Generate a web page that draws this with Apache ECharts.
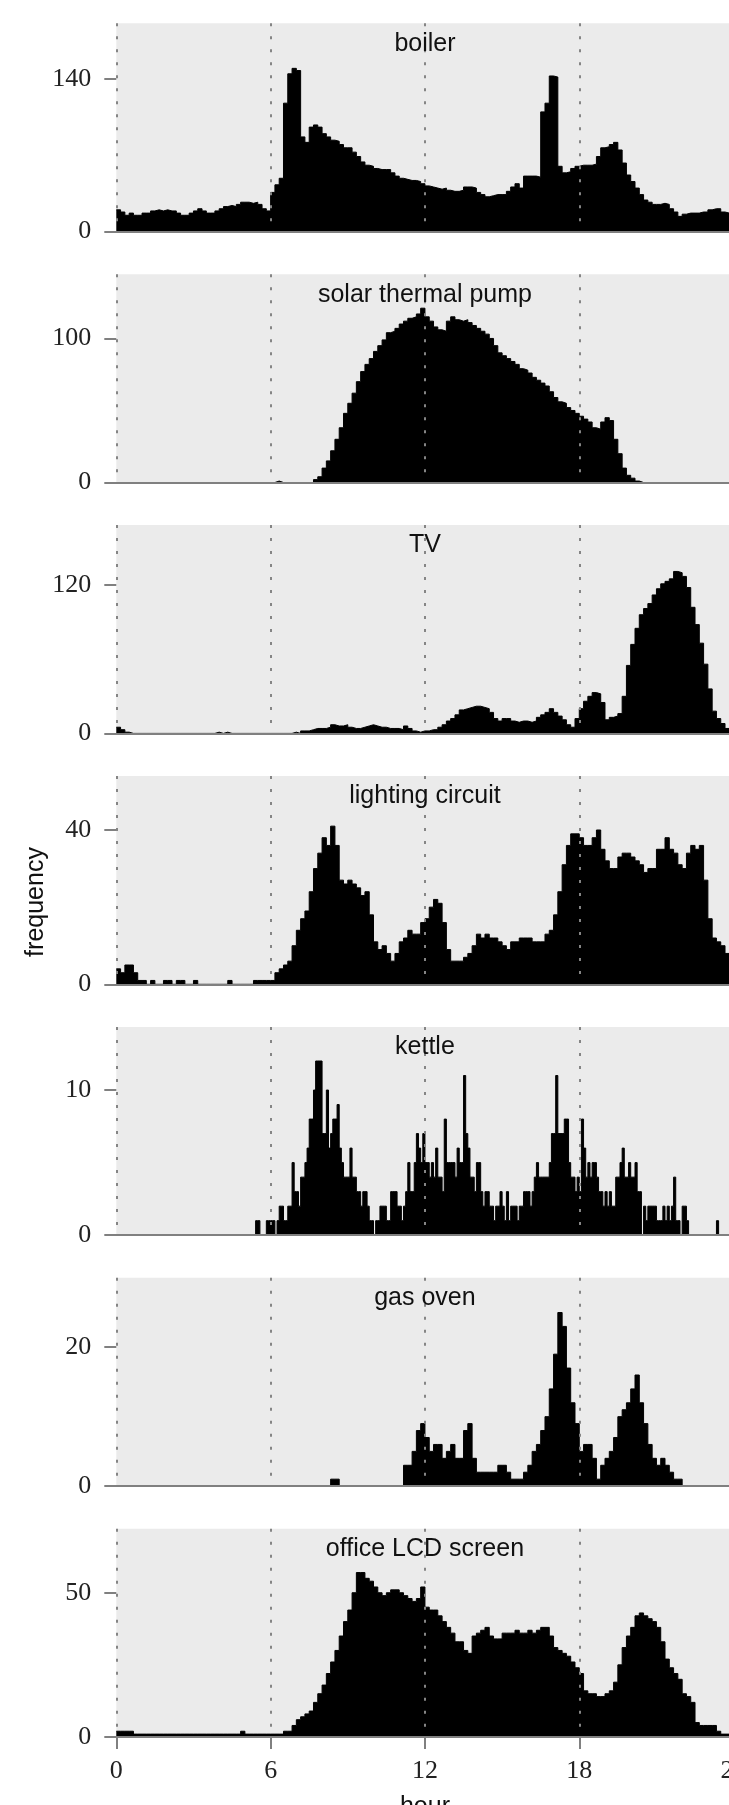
<!DOCTYPE html>
<html>
<head>
<meta charset="utf-8">
<title>appliance usage by hour</title>
<script src="https://cdn.jsdelivr.net/npm/echarts@6/dist/echarts.min.js"></script>
<style>
  html, body { margin: 0; padding: 0; background: #fff; }
  #chart { width: 729px; height: 1805px; }
</style>
</head>
<body>
<div id="chart"></div>
<script>
const hourTicks = [0, 6, 12, 18, 24]
const titles = ['boiler', 'solar thermal pump', 'TV', 'lighting circuit', 'kettle', 'gas oven', 'office LCD screen']
const yTicks = [140, 100, 120, 40, 10, 20, 50]
const yMax = [191.4, 144.6, 168.5, 54, 14.35, 30, 72.2]

// 10 minute bins, 0h .. 24h
const boiler = [
  20, 18, 15, 17, 15, 15, 17, 17, 19, 20, 19, 20,
  19, 19, 17, 15, 15, 17, 19, 21, 19, 17, 17, 19,
  21, 23, 24, 23, 25, 27, 27, 26, 27, 25, 21, 19,
  36, 43, 49, 118, 145, 150, 148, 87, 82, 96, 98, 96,
  90, 87, 84, 83, 80, 77, 77, 73, 69, 64, 61, 60,
  58, 57, 57, 57, 54, 51, 49, 48, 47, 47, 46, 44,
  42, 41, 40, 39, 40, 38, 37, 37, 38, 41, 41, 40,
  36, 34, 32, 33, 34, 34, 34, 37, 41, 44, 40, 51,
  51, 51, 50, 110, 118, 143, 142, 60, 54, 55, 58, 60,
  61, 61, 61, 62, 69, 77, 78, 80, 82, 75, 63, 52,
  46, 40, 34, 29, 27, 25, 25, 26, 25, 21, 18, 14,
  16, 17, 17, 17, 18, 18, 20, 21, 21, 18, 17, 18
]
const solarPump = [
  0, 0, 0, 0, 0, 0, 0, 0, 0, 0, 0, 0,
  0, 0, 0, 0, 0, 0, 0, 0, 0, 0, 0, 0,
  0, 0, 0, 0, 0, 0, 0, 0, 0, 0, 0, 0,
  0, 1, 0, 0, 0, 0, 0, 0, 0, 0, 2, 4,
  10, 15, 22, 30, 38, 48, 55, 62, 70, 77, 82, 86,
  91, 95, 99, 104, 105, 107, 110, 112, 114, 115, 117, 121,
  115, 112, 108, 106, 105, 112, 115, 113, 112, 113, 111, 109,
  107, 105, 103, 100, 95, 90, 88, 86, 84, 82, 79, 78,
  76, 73, 71, 69, 67, 63, 59, 56, 55, 52, 50, 48,
  46, 44, 42, 38, 37, 42, 45, 43, 30, 20, 10, 5,
  3, 1, 0, 0, 0, 0, 0, 0, 0, 0, 0, 0,
  0, 0, 0, 0, 0, 0, 0, 0, 0, 0, 0, 0
]
const tv = [
  5, 3, 1, 0, 0, 0, 0, 0, 0, 0, 0, 0,
  0, 0, 0, 0, 0, 0, 0, 0, 0, 0, 0, 1,
  0, 1, 0, 0, 0, 0, 0, 0, 0, 0, 0, 0,
  0, 0, 0, 0, 0, 1, 0, 2, 2, 3, 4, 4,
  4, 5, 7, 6, 6, 7, 5, 4, 4, 5, 6, 7,
  6, 5, 5, 4, 4, 4, 3, 6, 4, 2, 1, 2,
  2, 3, 3, 5, 7, 10, 12, 15, 19, 20, 21, 22,
  22, 21, 20, 17, 12, 10, 12, 12, 10, 9, 10, 10,
  9, 10, 13, 15, 17, 20, 17, 14, 11, 7, 5, 12,
  20, 26, 30, 33, 32, 25, 11, 13, 14, 16, 30, 55,
  72, 85, 96, 101, 105, 112, 117, 121, 123, 125, 131, 130,
  127, 118, 102, 88, 73, 56, 36, 18, 12, 8, 4, 3
]
const lighting = [
  4, 3, 5, 5, 3, 1, 1, 0, 1, 0, 0, 1,
  1, 0, 1, 1, 0, 0, 1, 0, 0, 0, 0, 0,
  0, 0, 1, 0, 0, 0, 0, 0, 1, 1, 1, 1,
  1, 3, 4, 5, 6, 10, 14, 17, 19, 24, 30, 34,
  38, 36, 41, 36, 27, 26, 27, 26, 25, 23, 24, 18,
  11, 9, 10, 8, 6, 8, 11, 12, 14, 13, 13, 16,
  17, 20, 22, 21, 16, 9, 6, 6, 6, 7, 8, 10,
  13, 12, 13, 12, 12, 11, 10, 9, 11, 11, 12, 12,
  12, 11, 11, 11, 13, 14, 18, 24, 31, 36, 39, 39,
  38, 36, 36, 38, 40, 35, 32, 30, 30, 33, 34, 34,
  33, 32, 31, 29, 30, 30, 35, 35, 38, 35, 34, 31,
  30, 34, 36, 35, 36, 27, 17, 12, 11, 10, 8, 7
]
// 5 minute bins
const kettle = [
  0, 0, 0, 0, 0, 0, 0, 0, 0, 0, 0, 0, 0, 0, 0, 0, 0, 0, 0, 0, 0, 0, 0, 0,
  0, 0, 0, 0, 0, 0, 0, 0, 0, 0, 0, 0, 0, 0, 0, 0, 0, 0, 0, 0, 0, 0, 0, 0,
  0, 0, 0, 0, 0, 0, 0, 0, 0, 0, 0, 0, 0, 0, 0, 0, 0, 1, 1, 0, 0, 0, 1, 1,
  1, 1, 0, 1, 2, 2, 1, 1, 2, 2, 5, 3, 3, 2, 4, 4, 5, 6, 8, 8, 10, 12, 12, 12,
  7, 7, 10, 6, 7, 8, 8, 9, 6, 5, 4, 4, 4, 6, 4, 4, 3, 3, 2, 3, 3, 2, 1, 1,
  0, 1, 1, 2, 2, 2, 1, 1, 3, 3, 3, 2, 2, 1, 2, 3, 5, 3, 3, 5, 7, 6, 5, 7,
  5, 5, 4, 5, 4, 6, 4, 4, 3, 8, 5, 5, 5, 5, 4, 6, 5, 5, 11, 7, 6, 4, 4, 3,
  5, 5, 3, 2, 3, 3, 2, 2, 1, 2, 2, 3, 2, 1, 3, 1, 2, 2, 2, 1, 2, 2, 3, 3,
  3, 2, 3, 4, 5, 4, 4, 4, 4, 4, 5, 7, 7, 11, 7, 7, 7, 8, 8, 5, 4, 4, 3, 4,
  3, 8, 6, 4, 5, 4, 5, 5, 4, 3, 3, 2, 3, 2, 3, 2, 2, 4, 4, 5, 6, 4, 4, 5,
  4, 4, 5, 3, 3, 0, 2, 1, 2, 2, 2, 2, 1, 1, 1, 2, 1, 2, 1, 2, 4, 1, 1, 0,
  2, 2, 1, 0, 0, 0, 0, 0, 0, 0, 0, 0, 0, 0, 0, 0, 1, 0, 0, 0, 0, 0, 0, 0
]
const gasOven = [
  0, 0, 0, 0, 0, 0, 0, 0, 0, 0, 0, 0,
  0, 0, 0, 0, 0, 0, 0, 0, 0, 0, 0, 0,
  0, 0, 0, 0, 0, 0, 0, 0, 0, 0, 0, 0,
  0, 0, 0, 0, 0, 0, 0, 0, 0, 0, 0, 0,
  0, 0, 1, 1, 0, 0, 0, 0, 0, 0, 0, 0,
  0, 0, 0, 0, 0, 0, 0, 3, 3, 5, 8, 9,
  7, 5, 6, 6, 4, 5, 6, 4, 4, 8, 9, 4,
  2, 2, 2, 2, 2, 3, 3, 2, 1, 1, 1, 2,
  3, 5, 6, 8, 10, 14, 19, 25, 23, 17, 12, 9,
  5, 6, 6, 4, 1, 3, 4, 5, 7, 10, 11, 12,
  14, 16, 12, 9, 6, 4, 3, 4, 3, 2, 1, 1,
  0, 0, 0, 0, 0, 0, 0, 0, 0, 0, 0, 0
]
const officeLcd = [
  2, 2, 2, 2, 1, 1, 1, 1, 1, 1, 1, 1,
  1, 1, 1, 1, 1, 1, 1, 1, 1, 1, 1, 1,
  1, 1, 1, 1, 1, 2, 1, 1, 1, 1, 1, 1,
  1, 1, 1, 2, 2, 4, 6, 7, 8, 9, 12, 15,
  18, 22, 26, 30, 35, 40, 44, 50, 57, 57, 55, 54,
  52, 50, 49, 50, 51, 51, 50, 49, 48, 47, 48, 52,
  45, 44, 44, 42, 40, 38, 36, 33, 33, 30, 29, 35,
  36, 37, 38, 35, 34, 34, 36, 36, 36, 37, 36, 36,
  37, 36, 37, 38, 38, 35, 31, 30, 29, 28, 26, 24,
  22, 16, 15, 15, 14, 14, 15, 16, 19, 25, 31, 35,
  38, 42, 43, 42, 41, 40, 38, 33, 27, 24, 22, 20,
  15, 14, 12, 5, 4, 4, 4, 4, 2, 1, 1, 1
]
const panelValues = [boiler, solarPump, tv, lighting, kettle, gasOven, officeLcd]

const left = 116.3
const plotWidth = 617.3 // 0..24 h, runs a little past the right edge
const firstTop = 23.3
const panelStep = 250.9
const panelHeight = 208.3
const last = titles.length - 1
const axisGrey = '#808080'
const serif = 'Liberation Serif'
const sans = 'Liberation Sans'

function toSteps (values) {
  const bin = 24 / values.length
  const pts = values.map((v, i) => [i * bin, v])
  pts.push([24, values[values.length - 1]])
  return pts
}

const chart = echarts.init(document.getElementById('chart'), null, { renderer: 'canvas' })

chart.setOption({
  animation: false,
  title: titles.map((t, k) => ({
    text: t,
    left: left + plotWidth / 2,
    top: firstTop + k * panelStep + 8,
    textAlign: 'center',
    padding: 0,
    textStyle: { fontFamily: sans, fontSize: 25, fontWeight: 'normal', color: '#111' }
  })),
  grid: titles.map((t, k) => ({
    left: left,
    width: plotWidth,
    top: firstTop + k * panelStep,
    height: panelHeight,
    outerBoundsMode: 'none',
    show: true,
    backgroundColor: '#ebebeb',
    borderWidth: 0
  })),
  xAxis: titles.map((t, k) => ({
    type: 'value',
    gridIndex: k,
    min: 0,
    max: 24,
    interval: 6,
    z: 5,
    name: k === last ? 'hour' : '',
    nameLocation: 'middle',
    nameGap: 58,
    nameTextStyle: { fontFamily: sans, fontSize: 25, color: '#111' },
    axisLine: { show: true, lineStyle: { color: axisGrey, width: 2 } },
    axisTick: { show: k === last, length: 12, customValues: hourTicks, lineStyle: { color: axisGrey, width: 2 } },
    axisLabel: { show: k === last, customValues: hourTicks, margin: 21, fontFamily: serif, fontSize: 26, color: '#222' },
    splitLine: { show: true, lineStyle: { color: '#858585', width: 2, type: [3, 10] } }
  })),
  yAxis: titles.map((t, k) => ({
    type: 'value',
    gridIndex: k,
    min: 0,
    max: yMax[k],
    interval: yTicks[k],
    axisLine: { show: false },
    axisTick: { show: true, length: 12, customValues: [0, yTicks[k]], lineStyle: { color: axisGrey, width: 2 } },
    axisLabel: { customValues: [0, yTicks[k]], margin: 25, fontFamily: serif, fontSize: 26, color: '#222' },
    splitLine: { show: false }
  })),
  graphic: [{
    type: 'text',
    x: 36,
    y: 902,
    rotation: Math.PI / 2,
    style: {
      text: 'frequency',
      font: '25px "Liberation Sans"',
      fill: '#111',
      align: 'center',
      verticalAlign: 'middle',
      textAlign: 'center',
      textVerticalAlign: 'middle'
    }
  }],
  series: panelValues.map((values, k) => ({
    type: 'line',
    name: titles[k],
    xAxisIndex: k,
    yAxisIndex: k,
    data: toSteps(values),
    step: 'end',
    symbol: 'none',
    silent: true,
    lineStyle: { color: '#000', width: 1 },
    areaStyle: { color: '#000', opacity: 1 }
  }))
})
</script>
</body>
</html>
